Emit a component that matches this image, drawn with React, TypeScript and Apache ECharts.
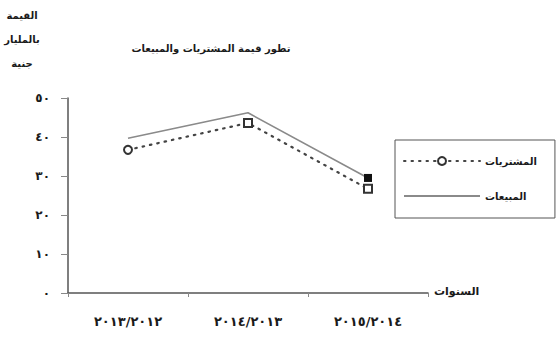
import React, { useEffect, useRef } from "react";
import * as echarts from "echarts";

const categories = ["٢٠١٣/٢٠١٢", "٢٠١٤/٢٠١٣", "٢٠١٥/٢٠١٤"];
const purchases = [36.7, 43.6, 26.7];
const sales = [39.7, 46.2, 29.5];
const yTickLabels = ["٠", "١٠", "٢٠", "٣٠", "٤٠", "٥٠"];
const seriesNames = ["المشتريات", "المبيعات"];
const titleText = "تطور قيمة المشتريات والمبيعات";
const yAxisName = "القيمة\nبالمليار\nجنية";
const xAxisName = "السنوات";

const FONT = "DejaVu Sans";

export default function App() {
  const ref = useRef<HTMLDivElement>(null);
  useEffect(() => {
    if (!ref.current) return;
    const chart = echarts.init(ref.current, null, { renderer: "svg" });
    chart.setOption({
      animation: false,
      backgroundColor: "#fff",
      textStyle: { fontFamily: FONT },
      title: {
        text: titleText,
        left: 206,
        top: 38,
        textAlign: "center",
        textStyle: { fontFamily: FONT, fontSize: 10, fontWeight: "bold", color: "#1a1a1a" },
      },
      graphic: [
        {
          type: "text",
          x: 22,
          y: 3,
          style: {
            text: yAxisName,
            textAlign: "center",
            font: `bold 10px "${FONT}"`,
            lineHeight: 24,
            fill: "#1a1a1a",
          },
        },
      ],
      legend: {
        orient: "vertical",
        left: 395,
        top: 140,
        borderColor: "#555",
        borderWidth: 1,
        padding: [16, 18, 17, 8],
        itemGap: 25,
        itemWidth: 76,
        itemHeight: 10,
        data: [
          { name: seriesNames[0] },
          { name: seriesNames[1], itemStyle: { opacity: 0 } },
        ],
        textStyle: { fontFamily: FONT, fontSize: 10, fontWeight: "bold", color: "#1a1a1a" },
      },
      grid: { left: 68, right: 131, top: 98, bottom: 47 },
      xAxis: {
        type: "category",
        data: categories,
        boundaryGap: true,
        name: xAxisName,
        nameLocation: "end",
        nameGap: 6,
        nameTextStyle: { fontFamily: FONT, fontSize: 11, fontWeight: "bold", color: "#1a1a1a", verticalAlign: "bottom", padding: [0, 0, -4, 0] },
        axisLine: { lineStyle: { color: "#555", width: 1.5 } },
        axisTick: { show: true, length: 4, lineStyle: { color: "#888" } },
        axisLabel: { margin: 22, fontSize: 13, fontWeight: "bold", color: "#1a1a1a", fontFamily: FONT },
      },
      yAxis: {
        type: "value",
        min: 0,
        max: 50,
        interval: 10,
        axisLine: { show: true, lineStyle: { color: "#555", width: 1.5 } },
        axisTick: { show: true, length: 7, lineStyle: { color: "#888" } },
        splitLine: { show: false },
        axisLabel: {
          margin: 18,
          fontSize: 12,
          fontWeight: "bold",
          color: "#1a1a1a",
          fontFamily: FONT,
          formatter: (v: number) => yTickLabels[Math.round(v / 10)],
        },
      },
      series: [
        {
          name: seriesNames[0],
          type: "line",
          data: purchases.map((v, i) =>
            i === 0 ? { value: v } : { value: v, symbol: "emptyRect" }
          ),
          symbol: "emptyCircle",
          symbolSize: 8,
          itemStyle: { color: "#333", borderColor: "#333", borderWidth: 2 },
          lineStyle: { color: "#444", width: 2.2, type: [1.5, 6], cap: "round" },
          z: 3,
        },
        {
          name: seriesNames[1],
          type: "line",
          data: sales.map((v, i) =>
            i === sales.length - 1 ? { value: v, symbol: "rect", symbolSize: 8 } : { value: v }
          ),
          symbol: "none",
          itemStyle: { color: "#111" },
          lineStyle: { color: "#8a8a8a", width: 1.6 },
          z: 2,
        },
      ],
    });
    return () => chart.dispose();
  }, []);
  return (
    <div
      ref={ref}
      style={{ position: "fixed", left: 0, top: 0, width: 559, height: 340 }}
    />
  );
}
